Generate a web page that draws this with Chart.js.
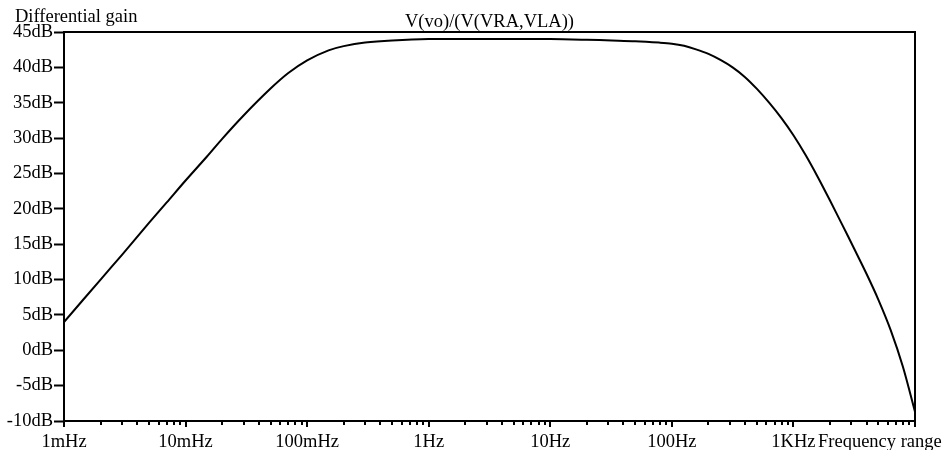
<!DOCTYPE html>
<html>
<head>
<meta charset="utf-8">
<script src="https://cdn.jsdelivr.net/npm/chart.js@4/dist/chart.umd.min.js"></script>
<style>
  html, body { margin: 0; padding: 0; background: #fff; }
  #wrap { width: 946px; height: 450px; position: relative; }
</style>
</head>
<body>
<div id="wrap"><canvas id="myChart"></canvas></div>
<script>
// frequency (Hz) and gain (dB)
const freqs = [0.001, 0.002, 0.003, 0.005, 0.007, 0.01, 0.015, 0.02, 0.03, 0.05, 0.07, 0.1, 0.15, 0.2, 0.3, 0.5, 1,
  3, 10, 20, 32, 50, 79, 100, 126, 158, 200, 251, 316, 398, 501, 631, 794, 1000, 1259, 1585, 1995, 2512, 3162, 3981,
  5012, 6310, 7943, 10000];
const gains = [4.0, 10.0, 13.5, 18.0, 20.9, 24.0, 27.4, 29.9, 33.2, 37.0, 39.2, 41.0, 42.4, 43.0, 43.5, 43.8, 44.0,
  44.0, 44.0, 43.9, 43.8, 43.7, 43.5, 43.35, 43.05, 42.55, 41.9, 41.05, 40.0, 38.65, 36.95, 35.0, 32.85, 30.4, 27.6,
  24.5, 21.2, 17.8, 14.35, 10.85, 7.1, 2.85, -2.3, -8.7];

const xDecades = [0.001, 0.01, 0.1, 1, 10, 100, 1000];
const xMinor = [1, 2, 3, 4, 5, 6, 7, 8, 9];
const xTickLabels = ['1mHz', '10mHz', '100mHz', '1Hz', '10Hz', '100Hz', '1KHz', ''];
const yTicks = [-10, -5, 0, 5, 10, 15, 20, 25, 30, 35, 40, 45];

const chartTitle = 'V(vo)/(V(VRA,VLA))';
const yTitle = 'Differential gain';
const xTitle = 'Frequency range';

const FONT = '"Liberation Serif", "Times New Roman", serif';
const FSIZE = 18.5;

const xTicks = [];
xDecades.forEach(d => xMinor.forEach(m => xTicks.push(d * m)));
xTicks.push(10000);

function decadeIndex(v) {
  const l = Math.log10(v);
  if (Math.abs(l - Math.round(l)) > 1e-6) return -1;
  return Math.round(l) + 3;
}

const frame = {
  id: 'frame',
  afterDraw(chart) {
    const { ctx, chartArea: a } = chart;
    const x = chart.scales.x;
    ctx.save();
    ctx.strokeStyle = '#000';
    ctx.lineWidth = 2;
    ctx.strokeRect(a.left, a.top, a.right - a.left, a.bottom - a.top);

    ctx.beginPath();
    xTicks.forEach(v => {
      const px = Math.round(x.getPixelForValue(v));
      const len = decadeIndex(v) >= 0 ? 6 : 4;
      ctx.moveTo(px, a.bottom);
      ctx.lineTo(px, a.bottom + len);
    });
    ctx.stroke();

    ctx.fillStyle = '#000';
    ctx.font = FSIZE + 'px ' + FONT;
    ctx.textBaseline = 'alphabetic';
    ctx.textAlign = 'left';
    ctx.fillText(yTitle, 15, 22);
    ctx.textAlign = 'center';
    ctx.fillText(chartTitle, (a.left + a.right) / 2, 27);
    ctx.textAlign = 'left';
    ctx.fillText(xTitle, a.right - 97, 447);
    ctx.restore();
  }
};

const ctx = document.getElementById('myChart').getContext('2d');
const myChart = new Chart(ctx, {
  type: 'line',
  data: {
    datasets: [{
      data: freqs.map((f, i) => ({ x: f, y: gains[i] })),
      borderColor: '#000',
      borderWidth: 2,
      pointRadius: 0,
      tension: 0.3,
      fill: false
    }]
  },
  options: {
    responsive: true,
    maintainAspectRatio: false,
    animation: false,
    layout: { padding: { top: 32, right: 31, left: 0, bottom: 0 } },
    plugins: { legend: { display: false }, tooltip: { enabled: false } },
    scales: {
      x: {
        type: 'logarithmic',
        min: 0.001,
        max: 10000,
        afterBuildTicks: s => { s.ticks = xTicks.map(v => ({ value: v })); },
        afterFit: s => { s.height = 29; },
        grid: { display: false, drawTicks: false },
        border: { display: false },
        ticks: {
          autoSkip: false,
          maxRotation: 0,
          padding: 10,
          color: '#000',
          font: { family: FONT, size: FSIZE },
          callback: v => {
            const i = decadeIndex(v);
            return i >= 0 ? xTickLabels[i] : '';
          }
        }
      },
      y: {
        min: -10,
        max: 45,
        afterBuildTicks: s => { s.ticks = yTicks.map(v => ({ value: v })); },
        afterFit: s => { s.width = 64; },
        grid: { drawOnChartArea: false, drawTicks: true, tickLength: 10, tickWidth: 2, tickColor: '#000' },
        border: { display: false },
        ticks: {
          padding: 1,
          color: '#000',
          font: { family: FONT, size: FSIZE },
          callback: v => v + 'dB'
        }
      }
    }
  },
  plugins: [frame]
});
</script>
</body>
</html>
